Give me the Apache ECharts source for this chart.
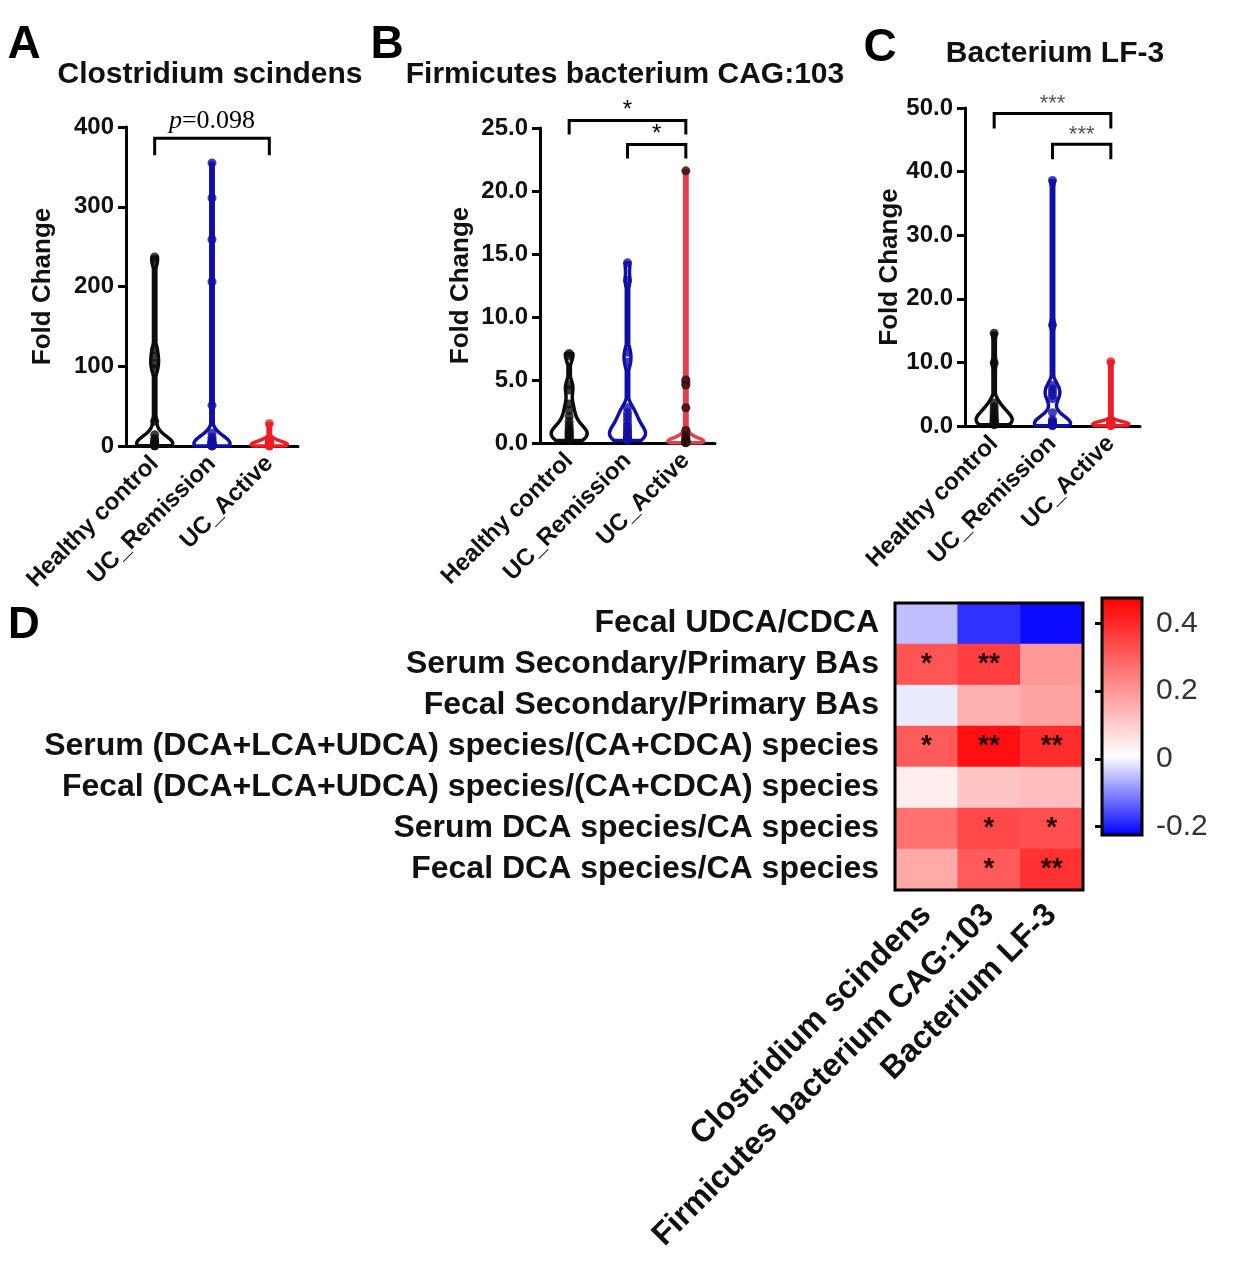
<!DOCTYPE html>
<html>
<head>
<meta charset="utf-8">
<script src="https://cdn.jsdelivr.net/npm/echarts@6/dist/echarts.min.js"></script>
<style>
  html, body { margin: 0; padding: 0; background: #fff; }
  #main { width: 1237px; height: 1280px; }
</style>
</head>
<body>
<div id="main"></div>
<script>
// ---------- data ----------
const groups = ['Healthy control', 'UC_Remission', 'UC_Active'];

// A. Clostridium scindens (fold change)
const csHealthy = [237, 232, 121, 112, 103, 97, 31, 14, 9, 6, 4, 3, 2.5, 2, 1.5, 1.2, 1, 0.6, 0.3, 0.2];
const csRemission = [355, 311, 259, 206, 51, 16, 11, 8, 6, 5, 4, 3, 2.5, 2, 1.5, 1.2, 1, 0.8, 0.5, 0.3, 0.2, 0.1];
const csActive = [28, 9, 6, 5, 4, 3, 2, 1.5, 1.2, 0.9, 0.6, 0.4, 0.2, 0.1];

// B. Firmicutes bacterium CAG:103
const fbHealthy = [7.1, 6.9, 4.6, 4.2, 3.1, 2.6, 2.1, 1.7, 1.4, 1.2, 1.0, 0.9, 0.8, 0.7, 0.6, 0.5, 0.4, 0.3, 0.2];
const fbRemission = [14.3, 12.9, 7.2, 6.4, 2.8, 2.4, 2.1, 1.8, 1.5, 1.3, 1.1, 0.9, 0.8, 0.6, 0.5, 0.4, 0.3, 0.2];
const fbActive = [21.6, 5.0, 4.6, 2.8, 1.0, 0.6, 0.4, 0.3, 0.2, 0.15, 0.12, 0.1, 0.08, 0.05, 0.03, 0.02];

// C. Bacterium LF-3
const lfHealthy = [14.6, 9.9, 3.6, 3.0, 2.5, 2.1, 1.7, 1.4, 1.1, 0.9, 0.8, 0.6, 0.5, 0.4, 0.3, 0.2];
const lfRemission = [38.6, 15.9, 6.4, 5.8, 5.3, 4.8, 4.3, 2.1, 1.0, 0.7, 0.5, 0.4, 0.3, 0.25, 0.2, 0.15, 0.1, 0.05];
const lfActive = [10.1, 0.7, 0.5, 0.4, 0.35, 0.3, 0.25, 0.2, 0.15, 0.1, 0.05];

// significance brackets: [from group, to group, label]
const sigA = [[0, 2, 'p=0.098']];
const sigB = [[0, 2, '*'], [1, 2, '*']];
const sigC = [[0, 2, '***'], [1, 2, '***']];

// D. correlation heatmap
const bileRatios = [
  'Fecal UDCA/CDCA',
  'Serum Secondary/Primary BAs',
  'Fecal Secondary/Primary BAs',
  'Serum (DCA+LCA+UDCA) species/(CA+CDCA) species',
  'Fecal (DCA+LCA+UDCA) species/(CA+CDCA) species',
  'Serum DCA species/CA species',
  'Fecal DCA species/CA species'
];
const species = ['Clostridium scindens', 'Firmicutes bacterium CAG:103', 'Bacterium LF-3'];
const corrRho = [
  [-0.05, -0.18, -0.215],
  [0.32, 0.36, 0.195],
  [-0.01, 0.153, 0.18],
  [0.31, 0.447, 0.395],
  [0.04, 0.115, 0.13],
  [0.27, 0.344, 0.33],
  [0.167, 0.31, 0.386]
];
const corrSig = [
  ['', '', ''],
  ['*', '**', ''],
  ['', '', ''],
  ['*', '**', '**'],
  ['', '', ''],
  ['', '*', '*'],
  ['', '*', '**']
];
const colorTicks = [-0.2, 0, 0.2, 0.4];

// ---------- helpers ----------
const FONT = '"Liberation Sans", Arial, Helvetica, sans-serif';
const BLACK = '#0d0d0d', BLUE = '#1010a6', RED = '#ee1c25';

function kde(vals, bw, t) {
  let s = 0;
  for (const v of vals) {
    const z = (t - v) / bw;
    s += Math.exp(-0.5 * z * z);
  }
  return s;
}

// violin outline drawn from a kernel density estimate of the values
function violinRender(vals, bw, halfW, color) {
  const lo = Math.min(...vals), hi = Math.max(...vals);
  const steps = 200;
  const ts = [], ds = [];
  for (let k = 0; k <= steps; k++) {
    const t = lo + (hi - lo) * k / steps;
    ts.push(t);
    ds.push(kde(vals, bw, t));
  }
  const dmax = Math.max(...ds);
  return function (params, api) {
    const gi = api.value(0);
    const cx = api.coord([gi, 0])[0];
    const left = [], right = [];
    for (let k = 0; k <= steps; k++) {
      const y = api.coord([gi, ts[k]])[1];
      const w = Math.max(1.2, halfW * ds[k] / dmax);
      left.push([cx - w, y]);
      right.push([cx + w, y]);
    }
    return {
      type: 'polygon',
      shape: { points: left.concat(right.reverse()) },
      style: { fill: 'none', stroke: color, lineWidth: 3.5, lineJoin: 'round' }
    };
  };
}

function bracketRender(sig, legPx, textStyle) {
  return function (params, api) {
    const y = api.value(2);
    const p1 = api.coord([api.value(0), y]);
    const p2 = api.coord([api.value(1), y]);
    const label = sig[params.dataIndex][2];
    const isP = label.charAt(0) === 'p';
    return {
      type: 'group',
      children: [
        {
          type: 'polyline',
          shape: { points: [[p1[0], p1[1] + legPx], [p1[0], p1[1]], [p2[0], p2[1]], [p2[0], p2[1] + legPx]] },
          style: { stroke: '#000', lineWidth: 3, fill: 'none' }
        },
        {
          type: 'text',
          x: (p1[0] + p2[0]) / 2,
          y: p1[1] - textStyle.gap,
          style: isP ? {
            text: '{i|p}{n|' + label.slice(1) + '}',
            textAlign: 'center', textVerticalAlign: 'bottom',
            rich: {
              i: { fontStyle: 'italic', fontSize: 26, fontFamily: '"Liberation Serif", "Times New Roman", serif', fill: '#000' },
              n: { fontSize: 26, fontFamily: '"Liberation Serif", "Times New Roman", serif', fill: '#000' }
            }
          } : {
            text: label, textAlign: 'center', textVerticalAlign: 'bottom',
            fontSize: textStyle.size, fontFamily: FONT, fill: textStyle.color
          }
        }
      ]
    };
  };
}

const panels = [
  {
    title: 'Clostridium scindens', letter: 'A', letterPos: [24, 45], titlePos: [210, 75],
    grid: { left: 126, top: 127, width: 172, height: 319 },
    max: 400, interval: 100, digits: 0, nameGap: 70, bw: [9, 9, 3.5],
    values: [csHealthy, csRemission, csActive],
    lineColors: [BLACK, BLUE, RED], pointColors: [BLACK, BLUE, RED],
    sig: sigA, bracketY: [386], leg: 17, sigText: { gap: 4, size: 26, color: '#000' }
  },
  {
    title: 'Firmicutes bacterium CAG:103', letter: 'B', letterPos: [387, 45], titlePos: [625, 75],
    grid: { left: 540, top: 128, width: 175, height: 315 },
    max: 25, interval: 5, digits: 1, nameGap: 66, bw: [0.55, 0.55, 0.25],
    values: [fbHealthy, fbRemission, fbActive],
    lineColors: [BLACK, BLUE, '#e2414c'], pointColors: [BLACK, BLUE, '#2a0a0a'],
    sig: sigB, bracketY: [25.6, 23.7], leg: 14, sigText: { gap: -2, size: 24, color: '#000' }
  },
  {
    title: 'Bacterium LF-3', letter: 'C', letterPos: [880, 48], titlePos: [1055, 54],
    grid: { left: 965, top: 108, width: 175, height: 318 },
    max: 50, interval: 10, digits: 1, nameGap: 62, bw: [1.1, 1.1, 0.4],
    values: [lfHealthy, lfRemission, lfActive],
    lineColors: [BLACK, BLUE, RED], pointColors: [BLACK, BLUE, RED],
    sig: sigC, bracketY: [49.15, 44.3], leg: 15, sigText: { gap: -2, size: 22, color: '#555' }
  }
];

const grid = [], xAxis = [], yAxis = [], series = [], graphic = [];

panels.forEach((p, pi) => {
  grid.push(Object.assign({ containLabel: false }, p.grid));
  xAxis.push({
    type: 'category', gridIndex: pi, data: groups,
    axisLine: { lineStyle: { color: '#000', width: 3 } },
    axisTick: { alignWithLabel: true, length: 8, lineStyle: { color: '#000', width: 3 } },
    axisLabel: { rotate: 45, interval: 0, margin: 14, color: '#111', fontFamily: FONT, fontWeight: 'bold', fontSize: 24 }
  });
  yAxis.push({
    type: 'value', gridIndex: pi, min: 0, max: p.max, interval: p.interval,
    name: 'Fold Change', nameLocation: 'middle', nameGap: p.nameGap,
    nameTextStyle: { color: '#111', fontFamily: FONT, fontWeight: 'bold', fontSize: 26 },
    axisLine: { show: true, lineStyle: { color: '#000', width: 3 } },
    axisTick: { show: true, length: 8, lineStyle: { color: '#000', width: 3 } },
    splitLine: { show: false },
    axisLabel: {
      margin: 12, color: '#111', fontFamily: FONT, fontWeight: 'bold', fontSize: 24,
      formatter: v => v.toFixed(p.digits)
    }
  });
  p.values.forEach((vals, gi) => {
    series.push({
      type: 'custom', xAxisIndex: pi, yAxisIndex: pi, silent: true,
      data: [[gi, Math.max(...vals)]], encode: { x: 0, y: 1 },
      renderItem: violinRender(vals, p.bw[gi], 18, p.lineColors[gi]), z: 2
    });
  });
  p.values.forEach((vals, gi) => {
    series.push({
      type: 'scatter', xAxisIndex: pi, yAxisIndex: pi, silent: true,
      data: vals.map(v => [gi, v]), symbol: 'circle', symbolSize: 9,
      itemStyle: { color: p.pointColors[gi] }, z: 3
    });
  });
  series.push({
    type: 'custom', xAxisIndex: pi, yAxisIndex: pi, silent: true,
    data: p.sig.map((s, k) => [s[0], s[1], p.bracketY[k]]), encode: { x: 0, y: 2 },
    renderItem: bracketRender(p.sig, p.leg, p.sigText), z: 4
  });
  graphic.push({
    type: 'text', x: p.letterPos[0], y: p.letterPos[1],
    style: { text: p.letter, textAlign: 'center', textVerticalAlign: 'middle', font: 'bold 46px ' + FONT, fill: '#000' }
  });
  graphic.push({
    type: 'text', x: p.titlePos[0], y: p.titlePos[1],
    style: { text: p.title, textAlign: 'center', textVerticalAlign: 'middle', font: 'bold 30px ' + FONT, fill: '#111' }
  });
});

graphic.push({
  type: 'text', x: 24, y: 626,
  style: { text: 'D', textAlign: 'center', textVerticalAlign: 'middle', font: 'bold 44px ' + FONT, fill: '#000' }
});

// heatmap grid (index 3)
grid.push({ left: 895, top: 603, width: 188, height: 287, show: true, borderColor: '#000', borderWidth: 3, backgroundColor: 'transparent', z: 10 });
xAxis.push({
  type: 'category', gridIndex: 3, data: species,
  axisLine: { show: false },
  axisTick: { alignWithLabel: true, length: 11, lineStyle: { color: '#000', width: 3 } },
  axisLabel: { rotate: 45, interval: 0, margin: 20, color: '#111', fontFamily: FONT, fontWeight: 'bold', fontSize: 32 }
});
yAxis.push({
  type: 'category', gridIndex: 3, data: bileRatios, inverse: true,
  axisLine: { show: false },
  axisTick: { alignWithLabel: true, length: 11, lineStyle: { color: '#000', width: 3 } },
  axisLabel: { interval: 0, margin: 16, color: '#111', fontFamily: FONT, fontWeight: 'bold', fontSize: 32 }
});

// colour bar axis grid (index 4)
grid.push({ left: 1102, top: 598, width: 40, height: 237, show: true, borderColor: '#000', borderWidth: 3, backgroundColor: 'transparent', z: 10 });
xAxis.push({ type: 'value', gridIndex: 4, show: false, min: 0, max: 1 });
yAxis.push({
  type: 'value', gridIndex: 4, position: 'right', min: -0.225, max: 0.475,
  axisLine: { show: false }, splitLine: { show: false },
  axisTick: { show: true, inside: true, length: 7, customValues: colorTicks, lineStyle: { color: '#000', width: 3 } },
  axisLabel: {
    customValues: colorTicks, margin: 14, color: '#333', fontFamily: FONT, fontSize: 30,
    formatter: v => (Math.abs(v) < 1e-9 ? '0' : v.toFixed(1))
  }
});
yAxis.push({
  type: 'value', gridIndex: 4, position: 'left', min: -0.225, max: 0.475,
  axisLine: { show: false }, splitLine: { show: false },
  axisTick: { show: true, inside: true, length: 7, customValues: colorTicks, lineStyle: { color: '#000', width: 3 } },
  axisLabel: { show: false }
});

const heatData = [];
corrRho.forEach((row, ri) => row.forEach((v, ci) => heatData.push([ci, ri, v])));
const heatIndex = series.length;
series.push({
  type: 'heatmap', xAxisIndex: 3, yAxisIndex: 3, data: heatData, silent: true,
  label: {
    show: true, color: '#2a0000', fontFamily: FONT, fontSize: 28, fontWeight: 'bold',
    formatter: p => corrSig[p.value[1]][p.value[0]]
  },
  emphasis: { disabled: true }
});

const option = {
  backgroundColor: '#fff',
  animation: false,
  grid, xAxis, yAxis, series, graphic,
  visualMap: {
    type: 'continuous', seriesIndex: heatIndex, min: -0.225, max: 0.475,
    inRange: { color: ['#0000ff', '#ffffff', '#ff8080', '#ff0000'] },
    orient: 'vertical', left: 1102, top: 598, itemWidth: 40, itemHeight: 237,
    calculable: false, padding: 0, hoverLink: false
  }
};

const chart = echarts.init(document.getElementById('main'));
chart.setOption(option);
</script>
</body>
</html>
